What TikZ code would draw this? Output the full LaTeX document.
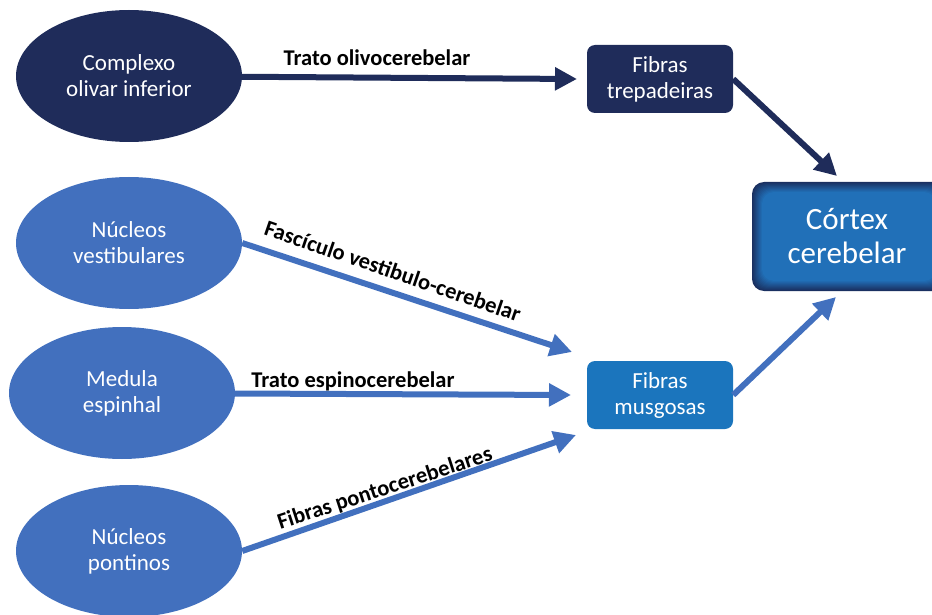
\documentclass[tikz,border=0pt]{standalone}
\usepackage{fontspec}
\setmainfont{Carlito}
\usetikzlibrary{shapes.geometric,arrows.meta}

\definecolor{navy}{RGB}{31,44,90}
\definecolor{azul}{RGB}{66,112,190}
\definecolor{musgo}{RGB}{27,117,189}
\definecolor{rim}{RGB}{26,48,96}
\definecolor{miolo}{RGB}{33,112,184}

\tikzset{
  nucleo/.style={ellipse, minimum width=226pt, minimum height=132pt, inner sep=0pt,
    text=white, align=center, font=\fontsize{23}{26}\selectfont},
  fibra/.style={rounded corners=8pt, minimum width=146pt, minimum height=68pt,
    inner sep=0pt, text=white, align=center, font=\fontsize{23}{26}\selectfont},
  cortexbox/.style={minimum width=180pt, minimum height=109pt, inner sep=0pt,
    text=white, align=center, font=\fontsize{31}{34}\selectfont},
  via/.style={line width=6pt, -{Triangle[length=22pt,width=22pt]}},
  rotulo/.style={font=\bfseries\fontsize{22.5}{24}\selectfont}
}

\begin{document}
\begin{tikzpicture}[x=1pt,y=-1pt]
  \useasboundingbox (0,0) rectangle (932,615);

  % Origin nuclei
  \node[nucleo,fill=navy] (olivar) at (129,76) {Complexo\\olivar inferior};
  \node[nucleo,fill=azul] (vestib) at (129,243) {Núcleos\\vestibulares};
  \node[nucleo,fill=azul] (medula) at (122,393) {Medula\\espinhal};
  \node[nucleo,fill=azul] (pontinos) at (129,551) {Núcleos\\pontinos};

  % Fibre boxes
  \node[fibra,fill=navy] (trepad) at (660,79) {Fibras\\trepadeiras};
  \node[fibra,fill=musgo] (musgos) at (660,395) {Fibras\\musgosas};

  % Cerebellar cortex with a bevelled rim
  \foreach \i in {0,...,10}{
    \pgfmathtruncatemacro{\mix}{100-10*\i}
    \fill[rim!\mix!miolo, rounded corners=12pt] (752+\i,182+\i) rectangle (946-\i,291-\i);
  }
  \node[cortexbox] (cortex) at (847,236) {Córtex\\cerebelar};

  % Arrow tips
  \coordinate (tOliv) at (577,79);
  \coordinate (tTrep) at (837,176);
  \coordinate (tVest) at (572,352);
  \coordinate (tMed) at (571,395);
  \coordinate (tPont) at (576,435);
  \coordinate (tMusg) at (836,297);

  % Pathways
  \draw[via,navy] (olivar) -- (tOliv);
  \draw[via,navy] (trepad.east) -- (tTrep);
  \draw[via,azul] (vestib.east) -- (tVest);
  \draw[via,azul] (medula) -- (tMed);
  \draw[via,azul] (pontinos.east) -- (tPont);
  \draw[via,azul] (musgos.east) -- (tMusg);

  % Pathway names
  \node[rotulo] (lOliv) at (377,58) {Trato olivocerebelar};
  \node[rotulo,rotate=-19] (lVest) at (393,271) {Fascículo vestibulo-cerebelar};
  \node[rotulo] (lMed) at (353,381) {Trato espinocerebelar};
  \node[rotulo,rotate=18] (lPont) at (385,489) {Fibras pontocerebelares};
\end{tikzpicture}
\end{document}
